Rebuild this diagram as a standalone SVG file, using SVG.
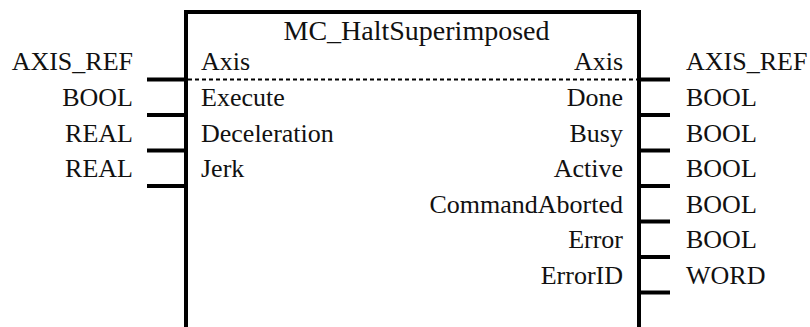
<svg xmlns="http://www.w3.org/2000/svg" width="810" height="327" viewBox="0 0 810 327">
<style>
text{font-family:'Liberation Serif','Times New Roman',Times,'DejaVu Serif',serif;font-size:26px;fill:#111}
.r{text-anchor:end}
.title{font-size:28px;text-anchor:middle}
.pin{stroke:#000;stroke-width:4;fill:none}
.box{stroke:#000;stroke-width:4;fill:#fff}
.dash{stroke:#000;stroke-width:2;stroke-dasharray:4 3;fill:none}
</style>
<rect width="810" height="327" fill="#fff"/>
<g font-family="'Liberation Serif', 'DejaVu Serif', serif">
<g id="fb">
<path class="box" d="M186,329 V12 H639 V329"/>
<line class="dash" x1="188" y1="79.5" x2="637" y2="79.5"/>
<text class="title" x="416.5" y="39.5">MC_HaltSuperimposed</text>
<text x="201" y="70">Axis</text>
<text x="201" y="106">Execute</text>
<text x="201" y="142">Deceleration</text>
<text x="201" y="177">Jerk</text>
<text class="r" x="623" y="70">Axis</text>
<text class="r" x="623" y="106">Done</text>
<text class="r" x="623" y="142">Busy</text>
<text class="r" x="623" y="177">Active</text>
<text class="r" x="623" y="213">CommandAborted</text>
<text class="r" x="623" y="248">Error</text>
<text class="r" x="623" y="284">ErrorID</text>
</g>
<g id="inputs">
<text class="r" x="133" y="70">AXIS_REF</text>
<text class="r" x="133" y="106">BOOL</text>
<text class="r" x="133" y="142">REAL</text>
<text class="r" x="133" y="177">REAL</text>
</g>
<g id="outputs">
<text x="686" y="70">AXIS_REF</text>
<text x="686" y="106">BOOL</text>
<text x="686" y="142">BOOL</text>
<text x="686" y="177">BOOL</text>
<text x="686" y="213">BOOL</text>
<text x="686" y="248">BOOL</text>
<text x="686" y="284">WORD</text>
</g>
</g>
<g id="connectors">
<line class="pin" x1="147" y1="79.5" x2="186" y2="79.5"/>
<line class="pin" x1="147" y1="115" x2="186" y2="115"/>
<line class="pin" x1="147" y1="150.5" x2="186" y2="150.5"/>
<line class="pin" x1="147" y1="186" x2="186" y2="186"/>
<line class="pin" x1="639" y1="79.5" x2="670" y2="79.5"/>
<line class="pin" x1="639" y1="115" x2="670" y2="115"/>
<line class="pin" x1="639" y1="150.5" x2="670" y2="150.5"/>
<line class="pin" x1="639" y1="186" x2="670" y2="186"/>
<line class="pin" x1="639" y1="221.5" x2="670" y2="221.5"/>
<line class="pin" x1="639" y1="257" x2="670" y2="257"/>
<line class="pin" x1="639" y1="292.5" x2="670" y2="292.5"/>
</g>
</svg>
